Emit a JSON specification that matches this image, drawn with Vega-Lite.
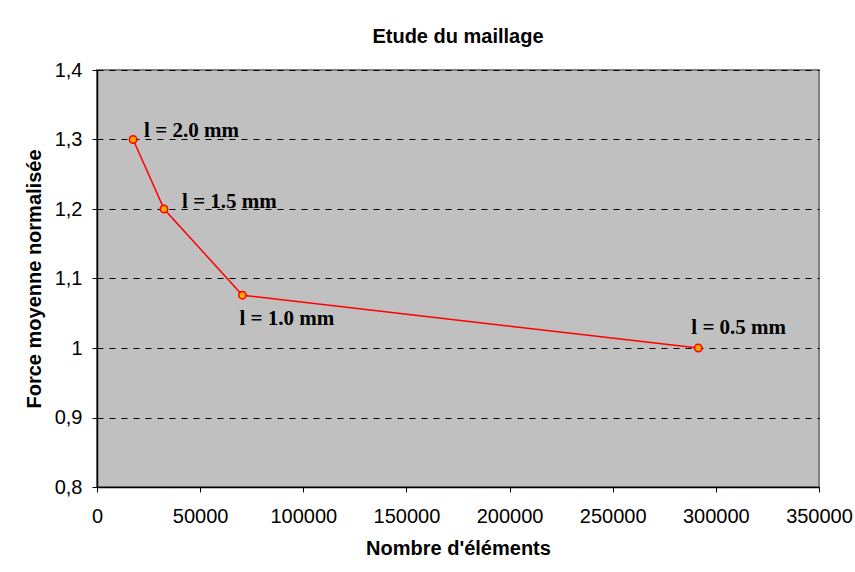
{
  "$schema": "https://vega.github.io/schema/vega-lite/v6.json",
  "autosize": "none",
  "width": 722,
  "height": 417,
  "padding": {"left": 97, "top": 70, "right": 36, "bottom": 85},
  "background": "white",
  "title": {"text": "Etude du maillage", "font": "Liberation Sans", "fontSize": 20, "fontWeight": "bold", "color": "black", "offset": 13, "anchor": "middle"},
  "config": {
    "view": {"fill": "#C0C0C0", "stroke": "#808080", "strokeWidth": 2},
    "axis": {"labelFont": "Liberation Sans", "labelFontSize": 20, "labelColor": "black", "titleFont": "Liberation Sans", "titleFontSize": 20, "titleFontWeight": "bold", "titleColor": "black", "domainColor": "black", "tickColor": "black", "tickSize": 5, "domainWidth": 1.5, "labelOverlap": false, "labelFlush": false}
  },
  "data": {"values": [
    {"elements": 17500, "force": 1.3, "label": "l = 2.0 mm"},
    {"elements": 32500, "force": 1.2, "label": "l = 1.5 mm"},
    {"elements": 70500, "force": 1.076, "label": "l = 1.0 mm"},
    {"elements": 291500, "force": 1.0, "label": "l = 0.5 mm"}
  ]},
  "encoding": {
    "x": {"field": "elements", "type": "quantitative", "scale": {"domain": [0, 350000], "nice": false}, "axis": {"title": "Nombre d'éléments", "format": "d", "values": [0, 50000, 100000, 150000, 200000, 250000, 300000, 350000], "grid": false, "labelPadding": 14, "titlePadding": 12}},
    "y": {"field": "force", "type": "quantitative", "scale": {"domain": [0.8, 1.4], "nice": false, "zero": false}, "axis": {"title": "Force moyenne normalisée", "values": [0.8, 0.9, 1.0, 1.1, 1.2, 1.3, 1.4], "labelExpr": "replace(format(datum.value, datum.value == 1 ? 'd' : '.1f'), '.', ',')", "grid": true, "gridColor": "black", "gridDash": [6, 6], "gridWidth": 1, "labelPadding": 10, "titlePadding": 10}}
  },
  "layer": [
    {"mark": {"type": "line", "color": "#FF0000", "strokeWidth": 1.5}},
    {"mark": {"type": "point", "filled": true, "fill": "#FFA500", "stroke": "#FF0000", "strokeWidth": 1.5, "size": 55, "opacity": 1}},
    {"transform": [{"filter": "datum.label == 'l = 2.0 mm'"}], "mark": {"type": "text", "align": "left", "baseline": "alphabetic", "dx": 11, "dy": -3, "font": "Liberation Serif", "fontSize": 21, "fontWeight": "bold", "color": "black"}, "encoding": {"text": {"field": "label"}}},
    {"transform": [{"filter": "datum.label == 'l = 1.5 mm'"}], "mark": {"type": "text", "align": "left", "baseline": "alphabetic", "dx": 18, "dy": -1, "font": "Liberation Serif", "fontSize": 21, "fontWeight": "bold", "color": "black"}, "encoding": {"text": {"field": "label"}}},
    {"transform": [{"filter": "datum.label == 'l = 1.0 mm'"}], "mark": {"type": "text", "align": "left", "baseline": "alphabetic", "dx": -3, "dy": 30, "font": "Liberation Serif", "fontSize": 21, "fontWeight": "bold", "color": "black"}, "encoding": {"text": {"field": "label"}}},
    {"transform": [{"filter": "datum.label == 'l = 0.5 mm'"}], "mark": {"type": "text", "align": "left", "baseline": "alphabetic", "dx": -7, "dy": -14, "font": "Liberation Serif", "fontSize": 21, "fontWeight": "bold", "color": "black"}, "encoding": {"text": {"field": "label"}}}
  ]
}
